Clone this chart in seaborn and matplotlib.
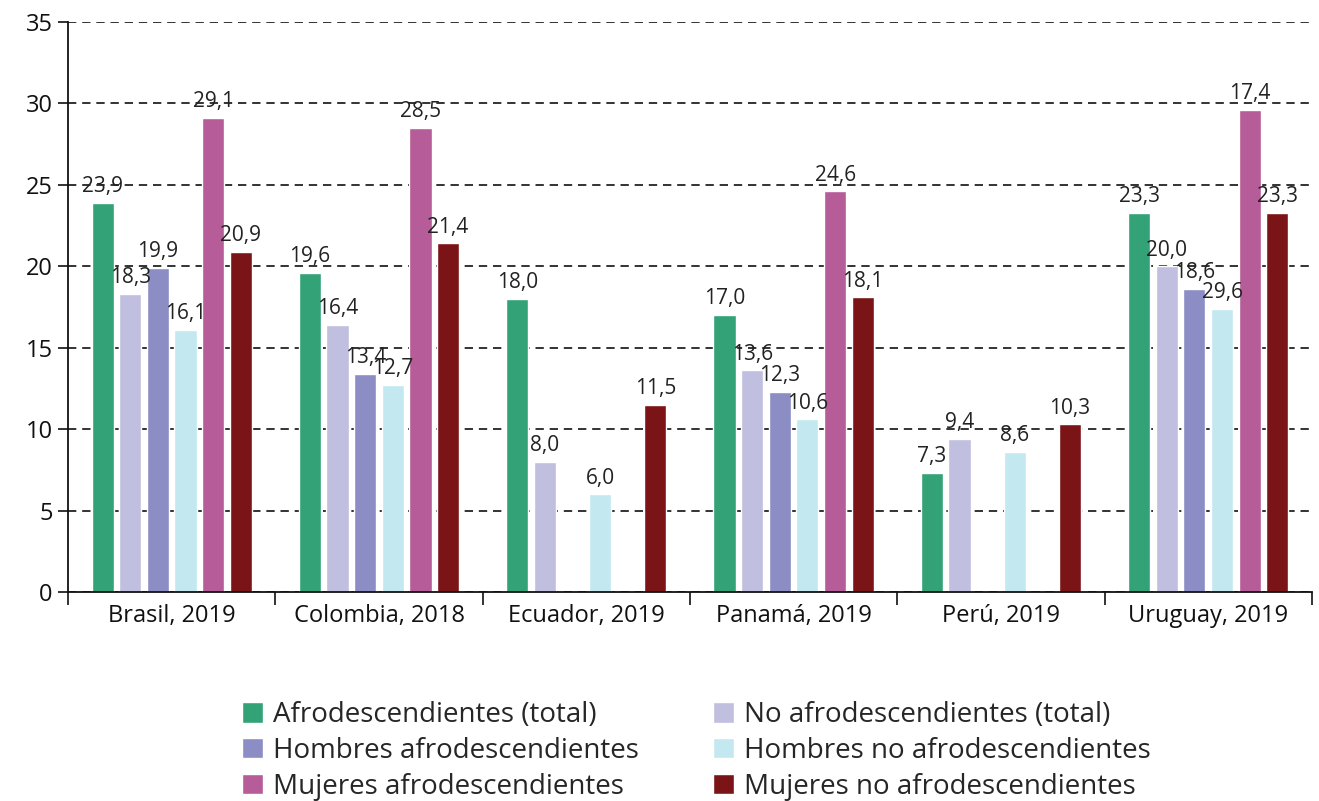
import numpy as np
import pandas as pd
import seaborn as sns
import matplotlib.pyplot as plt
from matplotlib.patches import Patch
from matplotlib.ticker import FixedLocator

countries = ["Brasil, 2019", "Colombia, 2018", "Ecuador, 2019",
             "Panamá, 2019", "Perú, 2019", "Uruguay, 2019"]
series = ["Afrodescendientes (total)", "No afrodescendientes (total)",
          "Hombres afrodescendientes", "Hombres no afrodescendientes",
          "Mujeres afrodescendientes", "Mujeres no afrodescendientes"]

afro_total = [23.9, 19.6, 18.0, 17.0, 7.3, 23.3]
no_afro_total = [18.3, 16.4, 8.0, 13.6, 9.4, 20.0]
hombres_afro = [19.9, 13.4, np.nan, 12.3, np.nan, 18.6]
hombres_no_afro = [16.1, 12.7, 6.0, 10.6, 8.6, 17.4]
mujeres_afro = [29.1, 28.5, np.nan, 24.6, np.nan, 29.6]
mujeres_no_afro = [20.9, 21.4, 11.5, 18.1, 10.3, 23.3]

colors = ["#33a277", "#c0bfe0", "#8b8dc4", "#c3e8ef", "#b65c99", "#7b1416"]

values = [afro_total, no_afro_total, hombres_afro, hombres_no_afro,
          mujeres_afro, mujeres_no_afro]

# long format for seaborn, missing bars dropped
df = pd.DataFrame([
    {"pais": c, "grupo": s, "valor": v}
    for s, vals in zip(series, values)
    for c, v in zip(countries, vals)
]).dropna()

# label text; the source prints the two Uruguay labels swapped
label_text = {s: [f"{v:.1f}".replace(".", ",") for v in vals]
              for s, vals in zip(series, values)}
label_text[series[3]][5] = "29,6"
label_text[series[4]][5] = "17,4"

sns.set_style("white")
plt.rcParams["font.family"] = ["Open Sans", "DejaVu Sans"]

fig = plt.figure(figsize=(13.19, 8.01), dpi=100)
ax = fig.add_axes([0.0516, 0.261, 0.943, 0.7115])

sns.barplot(data=df, x="pais", y="valor", hue="grupo", order=countries,
            hue_order=series, palette=colors, width=0.8, gap=0.2,
            saturation=1, legend=False, ax=ax)

for s, cont in zip(series, ax.containers):
    for bar in cont:
        h = bar.get_height()
        if np.isnan(h):
            continue
        idx = int(round(bar.get_x() + bar.get_width() / 2))
        ax.text(bar.get_x() + bar.get_width() / 2, h + 0.35,
                label_text[s][idx], ha="center", va="bottom",
                fontsize=15, color="#222222")

ax.set_ylim(0, 35)
ax.set_xlim(-0.5, len(countries) - 0.5)
ax.set_yticks(range(0, 36, 5))
ax.yaxis.grid(True, linestyle=(0, (5, 3.5)), color="#111111", linewidth=1.2)
ax.set_axisbelow(True)
ax.set_xlabel("")
ax.set_ylabel("")

sns.despine(ax=ax, top=True, right=True)
for sp in ["left", "bottom"]:
    ax.spines[sp].set_color("#111111")
    ax.spines[sp].set_linewidth(1.3)

ax.tick_params(axis="y", labelsize=17, length=7, width=1.2, pad=4,
               direction="out", left=True, colors="#111111")
ax.tick_params(axis="x", which="major", labelsize=17, length=0, pad=9,
               colors="#111111")
ax.xaxis.set_minor_locator(FixedLocator(np.arange(-0.5, len(countries), 1.0)))
ax.tick_params(axis="x", which="minor", length=9, width=1.2,
               direction="out", bottom=True, color="#111111")

handles = [Patch(facecolor=c) for c in colors]
order = [0, 2, 4, 1, 3, 5]
fig.legend([handles[i] for i in order], [series[i] for i in order],
           loc="upper center", bbox_to_anchor=(0.528, 0.149), ncol=2,
           frameon=False, fontsize=20, handlelength=0.75, handleheight=0.75,
           handletextpad=0.35, columnspacing=2.7, labelspacing=0.28,
           borderpad=0.2)

fig.savefig("out.png", dpi=100)
